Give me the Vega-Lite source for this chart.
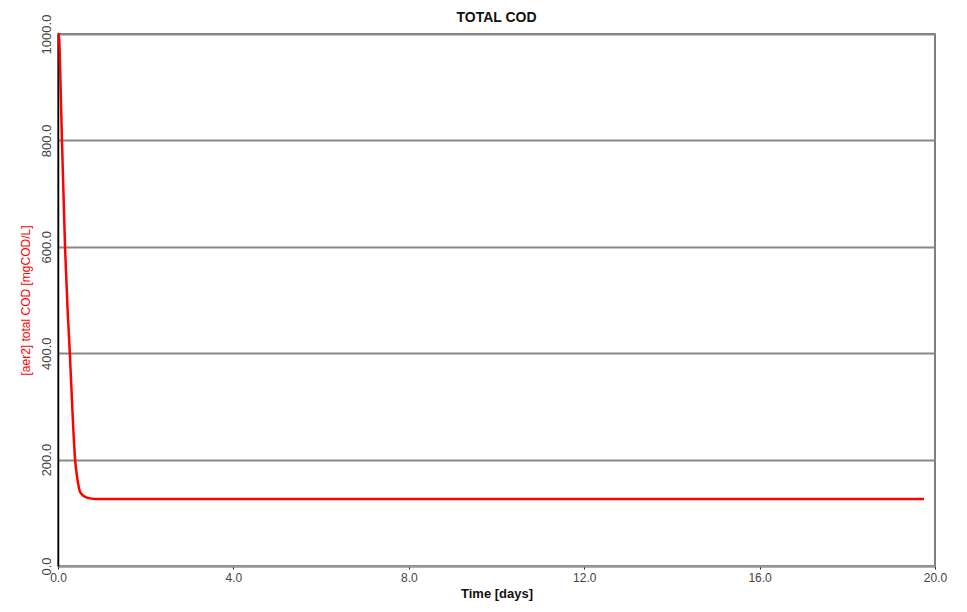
{
  "$schema": "https://vega.github.io/schema/vega-lite/v6.json",
  "width": 877,
  "height": 532,
  "autosize": "none",
  "padding": {"left": 58, "top": 34, "right": 32, "bottom": 46},
  "background": "white",
  "config": {
    "font": "Liberation Sans",
    "view": {"stroke": "#555", "strokeWidth": 1.5}
  },
  "title": {
    "text": "TOTAL COD",
    "fontSize": 14,
    "fontWeight": "bold",
    "color": "#111",
    "offset": 0,
    "dy": 11,
    "anchor": "middle"
  },
  "data": {
    "values": [
      {"t": 0.0, "cod": 1000},
      {"t": 0.02, "cod": 1000},
      {"t": 0.05, "cod": 930},
      {"t": 0.09, "cod": 800},
      {"t": 0.16, "cod": 600},
      {"t": 0.22, "cod": 480},
      {"t": 0.27, "cod": 400},
      {"t": 0.33, "cod": 290},
      {"t": 0.39, "cod": 200},
      {"t": 0.44, "cod": 165},
      {"t": 0.5, "cod": 140},
      {"t": 0.58, "cod": 132},
      {"t": 0.68, "cod": 128},
      {"t": 0.85, "cod": 126},
      {"t": 1.2, "cod": 126},
      {"t": 5.0, "cod": 126},
      {"t": 10.0, "cod": 126},
      {"t": 15.0, "cod": 126},
      {"t": 19.75, "cod": 126}
    ]
  },
  "mark": {"type": "line", "color": "#ff0000", "strokeWidth": 2.5, "interpolate": "monotone"},
  "encoding": {
    "x": {
      "field": "t",
      "type": "quantitative",
      "scale": {"domain": [0, 20], "nice": false, "zero": false},
      "axis": {
        "values": [0, 4, 8, 12, 16, 20],
        "format": ".1f",
        "grid": false,
        "title": "Time [days]",
        "titleFontSize": 13,
        "titleFontWeight": "bold",
        "titleColor": "#111",
        "titlePadding": 4,
        "labelFontSize": 12,
        "labelColor": "#444",
        "labelPadding": 3,
        "domainColor": "#999",
        "domainWidth": 2,
        "tickColor": "#222",
        "tickSize": 3,
        "labelFlush": false
      }
    },
    "y": {
      "field": "cod",
      "type": "quantitative",
      "scale": {"domain": [0, 1000], "nice": false},
      "axis": {
        "values": [0, 200, 400, 600, 800, 1000],
        "format": ".1f",
        "grid": true,
        "gridColor": "#888",
        "gridWidth": 2,
        "gridOpacity": 1,
        "title": "[aer2] total COD [mgCOD/L]",
        "titleColor": "#ff0000",
        "titleFontSize": 12,
        "titleFontWeight": "normal",
        "titlePadding": 8,
        "labelAngle": -90,
        "labelAlign": "center",
        "labelBaseline": "bottom",
        "labelFontSize": 13,
        "labelColor": "#444",
        "labelPadding": 5,
        "labelFlush": false,
        "domainColor": "#000",
        "domainWidth": 1.5,
        "ticks": false
      }
    }
  }
}
